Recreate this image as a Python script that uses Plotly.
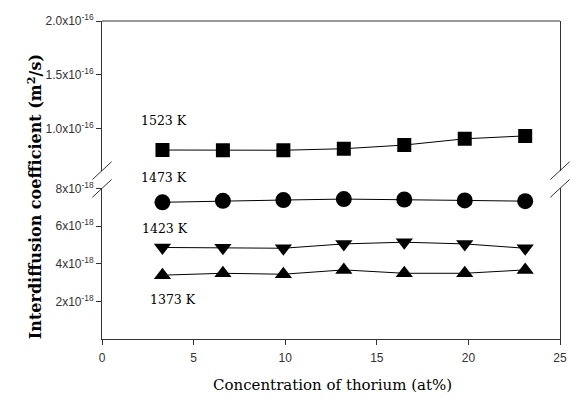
import plotly.graph_objects as go

# ---- data ----
conc = [3.3, 6.6, 9.9, 13.2, 16.5, 19.8, 23.1]
d_1523 = [0.805e-16, 0.803e-16, 0.803e-16, 0.817e-16, 0.851e-16, 0.909e-16, 0.936e-16]
d_1473 = [7.26e-18, 7.34e-18, 7.38e-18, 7.43e-18, 7.41e-18, 7.36e-18, 7.32e-18]
d_1423 = [4.86e-18, 4.84e-18, 4.82e-18, 5.05e-18, 5.14e-18, 5.05e-18, 4.82e-18]
d_1373 = [3.39e-18, 3.49e-18, 3.44e-18, 3.67e-18, 3.49e-18, 3.49e-18, 3.67e-18]

x_ticks = [0, 5, 10, 15, 20, 25]
up_ticks = [1.0e-16, 1.5e-16, 2.0e-16]
up_tick_text = ["1.0x10<sup>-16</sup>", "1.5x10<sup>-16</sup>", "2.0x10<sup>-16</sup>"]
low_ticks = [2e-18, 4e-18, 6e-18, 8e-18]
low_tick_text = ["2x10<sup>-18</sup>", "4x10<sup>-18</sup>", "6x10<sup>-18</sup>", "8x10<sup>-18</sup>"]

series_labels = ["1523 K", "1473 K", "1423 K", "1373 K"]

# ---- layout constants ----
LOW_TOP = 0.4737
UP_BOT = 0.5294
AX = "#333333"
SERIF = "DejaVu Serif"
SANS = "Liberation Sans, Arial, sans-serif"

fig = go.Figure()

line_style = dict(color="black", width=1)
fig.add_trace(go.Scatter(x=conc, y=d_1523, mode="lines+markers", xaxis="x", yaxis="y2",
                         line=line_style, marker=dict(symbol="square", size=14, color="black")))
fig.add_trace(go.Scatter(x=conc, y=d_1473, mode="lines+markers", xaxis="x", yaxis="y",
                         line=line_style, marker=dict(symbol="circle", size=16, color="black")))
fig.add_trace(go.Scatter(x=conc, y=d_1423, mode="lines+markers", xaxis="x", yaxis="y",
                         line=line_style, marker=dict(symbol="triangle-down", size=15, color="black")))
fig.add_trace(go.Scatter(x=conc, y=d_1373, mode="lines+markers", xaxis="x", yaxis="y",
                         line=line_style, marker=dict(symbol="triangle-up", size=15, color="black")))

tickfont = dict(family=SANS, size=12, color=AX)

fig.update_layout(
    width=579, height=404,
    margin=dict(l=102, r=15, t=16, b=65),
    paper_bgcolor="white", plot_bgcolor="white",
    showlegend=False,
    xaxis=dict(domain=[0, 1], anchor="y", range=[0, 25], tickvals=x_ticks,
               showline=True, linecolor=AX, linewidth=1, ticks="outside", ticklen=5,
               tickcolor=AX, showgrid=False, zeroline=False, tickfont=tickfont,
               ticklabelstandoff=3),
    yaxis=dict(domain=[0, LOW_TOP], anchor="x", range=[0, 8e-18], tickvals=low_ticks,
               ticktext=low_tick_text, showline=True, mirror=True, linecolor=AX, linewidth=1,
               ticks="outside", ticklen=5, tickcolor=AX, showgrid=False, zeroline=False,
               tickfont=tickfont),
    yaxis2=dict(domain=[UP_BOT, 1], anchor="x", range=[0.614e-16, 2.0e-16], tickvals=up_ticks,
                ticktext=up_tick_text, showline=True, mirror=True, linecolor=AX, linewidth=1,
                ticks="outside", ticklen=5, tickcolor=AX, showgrid=False, zeroline=False,
                tickfont=tickfont),
)

# top frame line
fig.add_shape(type="line", xref="paper", yref="paper", x0=0, x1=1, y0=1, y1=1,
              line=dict(color=AX, width=1))

# axis-break slashes on both sides
dx, dy = 0.021, 0.028
for xc in (0, 1):
    for yc in (UP_BOT, LOW_TOP):
        fig.add_shape(type="line", xref="paper", yref="paper",
                      x0=xc - dx, x1=xc + dx, y0=yc - dy, y1=yc + dy,
                      line=dict(color=AX, width=1))

# axis titles
fig.add_annotation(text="Interdiffusion coefficient (m<sup>2</sup>/s)", xref="paper", yref="paper",
                   x=0, y=0.4458, xshift=-67, textangle=-90, showarrow=False,
                   xanchor="center", yanchor="middle",
                   font=dict(family=SERIF, size=16, color="black", weight="bold"))
fig.add_annotation(text="Concentration of thorium (at%)", xref="paper", yref="paper",
                   x=0.504, y=0, yshift=-46, showarrow=False, xanchor="center", yanchor="middle",
                   font=dict(family=SERIF, size=15, color="black"))

# series labels
label_pos = [(0.1364, 0.687), (0.1364, 0.5077), (0.1374, 0.3477), (0.1558, 0.1229)]
for txt, (px, py) in zip(series_labels, label_pos):
    fig.add_annotation(text=txt, xref="paper", yref="paper", x=px, y=py, showarrow=False,
                       xanchor="center", yanchor="middle",
                       font=dict(family=SERIF, size=12.5, color="black"))

fig.write_html("out.html", config={"displayModeBar": False},
               post_script="document.body.style.margin='0';document.body.style.padding='0';")
